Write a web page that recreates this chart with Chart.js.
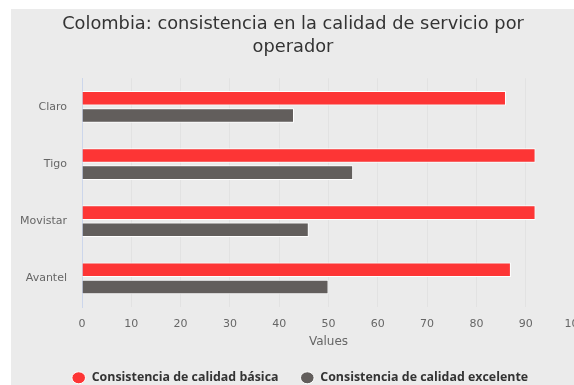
<!DOCTYPE html>
<html>
<head>
<meta charset="utf-8">
<script src="https://cdn.jsdelivr.net/npm/chart.js@4"></script>
<style>
  html, body { margin: 0; padding: 0; background: #fff; overflow: hidden; }
  #wrap { position: absolute; left: 11px; top: 9px; width: 574px; height: 385px; background: #ebebeb; }
</style>
</head>
<body>
<div id="wrap"><canvas id="chart" width="574" height="385"></canvas></div>
<script>
// data
const operators = ['Claro', 'Tigo', 'Movistar', 'Avantel'];
const basica = [86, 92, 92, 87];
const excelente = [43, 55, 46, 50];
const xTicks = [0, 10, 20, 30, 40, 50, 60, 70, 80, 90, 100];

// nudge the legend a little to the right, like the original
const legendShift = {
    id: 'legendShift',
    afterLayout(chart) {
        chart.legend.left += 7;
        chart.legend.right += 7;
    }
};

document.addEventListener('DOMContentLoaded', () => {
    const ctx = document.getElementById('chart').getContext('2d');
    new Chart(ctx, {
        type: 'bar',
        data: {
            labels: operators,
            datasets: [{
                label: 'Consistencia de calidad básica',
                data: basica,
                backgroundColor: '#fd3535',
                borderColor: '#ffffff',
                borderWidth: 1,
                categoryPercentage: 0.6,
                barPercentage: 0.85
            }, {
                label: 'Consistencia de calidad excelente',
                data: excelente,
                backgroundColor: '#625e5c',
                borderColor: '#ffffff',
                borderWidth: 1,
                categoryPercentage: 0.6,
                barPercentage: 0.85
            }]
        },
        options: {
            indexAxis: 'y',
            responsive: false,
            animation: false,
            layout: { padding: { left: 0, right: 10, top: 0, bottom: 0 } },
            scales: {
                x: {
                    min: 0,
                    max: 100,
                    afterBuildTicks: scale => { scale.ticks = xTicks.map(v => ({ value: v })); },
                    afterFit: scale => { scale.paddingRight = 0; },
                    grid: {
                        color: c => c.tick && c.tick.value === 0 ? '#ccd6eb' : '#e2e2e2',
                        drawTicks: false
                    },
                    border: { display: false },
                    ticks: {
                        color: '#666',
                        padding: 11,
                        font: { family: 'DejaVu Sans', size: 11 }
                    },
                    title: {
                        display: true,
                        text: 'Values',
                        color: '#666',
                        padding: { top: -8, bottom: 1 },
                        font: { family: 'DejaVu Sans', size: 12 }
                    }
                },
                y: {
                    afterFit: scale => { scale.width = 71; },
                    grid: { display: false },
                    border: { display: true, color: '#ccd6eb' },
                    ticks: {
                        color: '#666',
                        padding: 7,
                        font: { family: 'DejaVu Sans', size: 11 }
                    }
                }
            },
            plugins: {
                title: {
                    display: true,
                    text: ['Colombia: consistencia en la calidad de servicio por', 'operador'],
                    color: '#333',
                    font: { family: 'DejaVu Sans', size: 17.8, weight: 'normal', lineHeight: 1.3 },
                    padding: { top: 4, bottom: 19 }
                },
                legend: {
                    position: 'bottom',
                    labels: {
                        usePointStyle: true,
                        pointStyle: 'circle',
                        pointStyleWidth: 13.6,
                        boxHeight: 8.5,
                        color: '#333',
                        padding: 22,
                        font: { family: 'Open Sans', size: 12.4, weight: 'bold' }
                    }
                },
                tooltip: { enabled: false }
            }
        },
        plugins: [legendShift]
    });
});
</script>
</body>
</html>
